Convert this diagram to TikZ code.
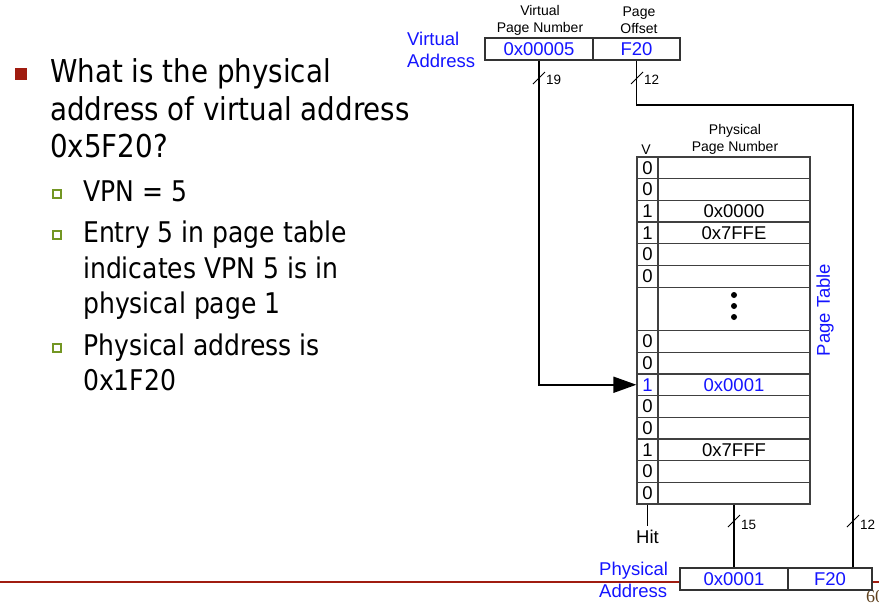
\documentclass[tikz,border=0pt]{standalone}
\usepackage{fontspec}
\setmainfont{DejaVu Sans}[FakeStretch=0.88]
\newfontfamily\arialfont{Liberation Sans}
\newfontfamily\pagefont{Liberation Serif}
\usetikzlibrary{arrows.meta}
\definecolor{slidered}{RGB}{160,28,16}
\definecolor{tableblue}{RGB}{20,20,255}
\definecolor{boxgreen}{RGB}{115,150,35}
\definecolor{pagebrown}{RGB}{95,65,30}

\begin{document}
\begin{tikzpicture}[x=1pt, y=-1pt,
  mainline/.style={anchor=base west, inner sep=0, font=\fontsize{31.5}{38}\selectfont},
  subline/.style={anchor=base west, inner sep=0, font=\fontsize{28.5}{34}\selectfont},
  lbl/.style={inner sep=0, align=center, font=\arialfont\fontsize{14}{17}\selectfont},
  val/.style={inner sep=0, font=\arialfont\fontsize{18.5}{22}\selectfont},
  vcell/.style={draw=black!75, line width=1.2pt, minimum width=21pt, minimum height=21.69pt, val},
  pcell/.style={vcell, minimum width=152pt},
  addr/.style={draw=black!80, fill=white, line width=1.2pt, minimum height=22pt, val, text=tableblue},
  wire/.style={line width=1.8pt},
  bus/.style={line width=0.8pt},
  buslbl/.style={anchor=west, inner sep=1pt, font=\arialfont\fontsize{13.5}{16}\selectfont},
  subbox/.style={draw=boxgreen, fill=white, line width=1.7pt, minimum size=8.5pt, inner sep=0}]
\useasboundingbox (0,0) rectangle (879,606);

% slide rule and page number
\draw[slidered, line width=2.2pt] (0,582) -- (680,582);
\draw[slidered, line width=2.2pt] (872,582) -- (879,582);
\node[anchor=base west, inner sep=0, text=pagebrown, font=\pagefont\fontsize{18}{20}\selectfont] (pnum) at (866,602) {60};

% question text
\node[fill=slidered, minimum size=12pt, inner sep=0] (b1) at (21,74) {};
\node[mainline] (q1) at (50,82) {What is the physical};
\node[mainline] (q2) at (50,120) {address of virtual address};
\node[mainline] (q3) at (50,157) {0x5F20?};
\node[subbox] (s1) at (57,194) {};
\node[subbox] (s2) at (57,235) {};
\node[subbox] (s3) at (57,348) {};
\node[subline] (a1) at (83,201) {VPN = 5};
\node[subline] (a2) at (83,242) {Entry 5 in page table};
\node[subline] (a3) at (83,278) {indicates VPN 5 is in};
\node[subline] (a4) at (83,313) {physical page 1};
\node[subline] (a5) at (83,355) {Physical address is};
\node[subline] (a6) at (83,390) {0x1F20};

% virtual address
\node[lbl] (vpnlbl) at (540,20.5) {Virtual\\Page Number};
\node[lbl] (offlbl) at (639,20.5) {Page\\Offset};
\node[val, text=tableblue, align=left, anchor=west] (valbl) at (407,50) {Virtual\\Address};
\node[addr, minimum width=108pt] (vpn) at (539,49) {0x00005};
\node[addr, minimum width=87pt] (off) at (636.5,49) {F20};

% page table
\node[lbl] (ppnlbl) at (735,139.5) {Physical\\Page Number};
\node[lbl] (vlbl) at (646,150) {V};
\foreach \i/\v/\p in {0/0/{},1/0/{},2/1/0x0000,3/1/0x7FFE,4/0/{},5/0/{},8/0/{},9/0/{},11/0/{},12/0/{},13/1/0x7FFF,14/0/{},15/0/{}} {
  \node[vcell] (v\i) at (647.5,{157+21.69*(\i+0.5)}) {\v};
  \node[pcell] (p\i) at (734,{157+21.69*(\i+0.5)}) {\p};
}
\node[vcell, text=tableblue] (v10) at (647.5,{157+21.69*10.5}) {1};
\node[pcell, text=tableblue] (p10) at (734,{157+21.69*10.5}) {0x0001};
\node[vcell, minimum height=43.38pt] (vgap) at (647.5,308.8) {};
\node[pcell, minimum height=43.38pt] (pgap) at (734,308.8) {};
\foreach \d in {295,306,317} \fill (734,\d) circle (3pt);
\node[val, text=tableblue, rotate=90] (ptlbl) at (825,310) {Page Table};

% physical address
\node[val, text=tableblue, align=left, anchor=west] (palbl) at (599,579.5) {Physical\\Address};
\node[addr, minimum width=108pt] (ppn) at (734,579) {0x0001};
\node[addr, minimum width=84pt] (poff) at (830,579) {F20};

% wires
\coordinate (bend) at (853,105);
\draw[wire] (off.south) |- (bend) -- (bend |- poff.north);
\draw[wire, -{Triangle[length=23pt,width=16pt]}] (vpn.south) |- (v10.west);
\draw[wire] (p15.south) -- (ppn.north);
\draw[line width=1pt] (v15.south) -- ++(0,21) node[val, below=4pt] (hit) {Hit};

% bus widths
\draw[bus] (533,84) -- (545,72);
\node[buslbl] (w19) at (545,80) {19};
\draw[bus] (631,84) -- (643,72);
\node[buslbl] (w12a) at (643,80) {12};
\draw[bus] (728,527) -- (740,515);
\node[buslbl] (w15) at (740,525) {15};
\draw[bus] (847,527) -- (859,515);
\node[buslbl] (w12b) at (859,525) {12};
\end{tikzpicture}
\end{document}
